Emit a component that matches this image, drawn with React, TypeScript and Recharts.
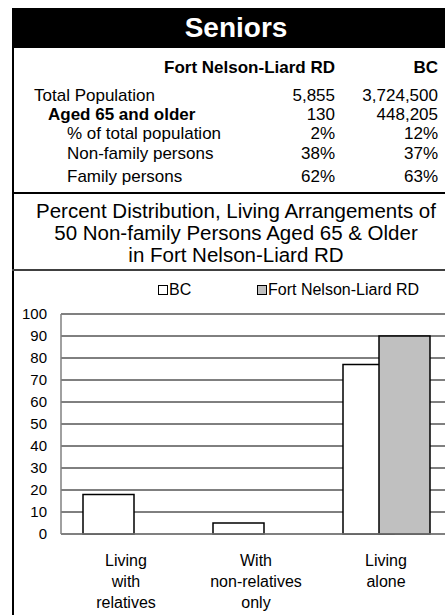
import React from 'react';
import { BarChart, Bar, XAxis, YAxis, CartesianGrid, ReferenceLine } from 'recharts';

// ---- data ----
const pageTitle = 'Seniors';
const columnHeaders = ['Fort Nelson-Liard RD', 'BC'];
const rowLabels = ['Total Population', 'Aged 65 and older', '% of total population', 'Non-family persons', 'Family persons'];
const fnValues = ['5,855', '130', '2%', '38%', '62%'];
const bcValues = ['3,724,500', '448,205', '12%', '37%', '63%'];
const chartTitleLines = [
  'Percent Distribution, Living Arrangements of',
  '50 Non-family Persons Aged 65 & Older',
  'in Fort Nelson-Liard RD',
];
const categories = ['Living\nwith\nrelatives', 'With\nnon-relatives\nonly', 'Living\nalone'];
const seriesNames = ['BC', 'Fort Nelson-Liard RD'];
const bcSeries = [18, 5, 77];
const fnSeries: (number | null)[] = [null, null, 90];
const yTicks = [0, 10, 20, 30, 40, 50, 60, 70, 80, 90, 100];

const chartData = categories.map((c, i) => ({ cat: c, bc: bcSeries[i], fn: fnSeries[i] }));

// ---- layout ----
const FONT = 'Arial, "Liberation Sans", sans-serif';
const rowCenters = [96, 115, 134, 154, 177];
const rowIndent = [34, 48, 67, 67, 67];
const rowBold = [false, true, false, false, false];
const seriesFill = ['#ffffff', '#c0c0c0'];

const abs = (o: React.CSSProperties): React.CSSProperties => ({ position: 'absolute', whiteSpace: 'nowrap', ...o });

function CatTick(props: any) {
  const { x, y, payload } = props;
  const lines = String(payload.value).split('\n');
  return (
    <text x={x} y={y} textAnchor="middle" fontSize={16} fontFamily={FONT} fill="#000">
      {lines.map((l, i) => (
        <tspan key={i} x={x} dy={i === 0 ? 32 : 21}>
          {l}
        </tspan>
      ))}
    </text>
  );
}

export default function App() {
  return (
    <div
      style={{
        position: 'absolute',
        left: 0,
        top: 0,
        width: 445,
        height: 615,
        overflow: 'hidden',
        background: '#fff',
        fontFamily: FONT,
        color: '#000',
      }}
    >
      {/* black title bar */}
      <div style={abs({ left: 12, top: 8, width: 460, height: 40, background: '#000' })} />
      <div
        style={abs({
          left: 12,
          top: 8,
          width: 448,
          height: 40,
          lineHeight: '40px',
          textAlign: 'center',
          color: '#fff',
          fontWeight: 'bold',
          fontSize: 28,
        })}
      >
        {pageTitle}
      </div>
      {/* left border */}
      <div style={abs({ left: 12, top: 8, width: 2, height: 620, background: '#000' })} />
      {/* header row */}
      <div style={abs({ right: 445 - 335, top: 68 - 10, height: 20, lineHeight: '20px', fontSize: 17, fontWeight: 'bold' })}>
        {columnHeaders[0]}
      </div>
      <div style={abs({ right: 445 - 438, top: 68 - 10, height: 20, lineHeight: '20px', fontSize: 17, fontWeight: 'bold' })}>
        {columnHeaders[1]}
      </div>
      {rowLabels.map((lab, i) => (
        <React.Fragment key={i}>
          <div
            style={abs({
              left: rowIndent[i],
              top: rowCenters[i] - 10,
              height: 20,
              lineHeight: '20px',
              fontSize: 17,
              fontWeight: rowBold[i] ? 'bold' : 'normal',
            })}
          >
            {lab}
          </div>
          <div style={abs({ right: 445 - 335, top: rowCenters[i] - 10, height: 20, lineHeight: '20px', fontSize: 17 })}>
            {fnValues[i]}
          </div>
          <div style={abs({ right: 445 - 438, top: rowCenters[i] - 10, height: 20, lineHeight: '20px', fontSize: 17 })}>
            {bcValues[i]}
          </div>
        </React.Fragment>
      ))}
      {/* separator */}
      <div style={abs({ left: 12, top: 192, width: 460, height: 2, background: '#000' })} />
      {/* chart title */}
      {chartTitleLines.map((t, i) => (
        <div
          key={i}
          style={abs({
            left: 12,
            width: 448,
            top: 211 + i * 22 - 11,
            height: 22,
            lineHeight: '22px',
            fontSize: 20.5,
            textAlign: 'center',
          })}
        >
          {t}
        </div>
      ))}
      <div style={abs({ left: 12, top: 269, width: 460, height: 2, background: '#404040' })} />
      {/* legend */}
      {seriesNames.map((n, i) => {
        const left = i === 0 ? 158 : 257;
        return (
          <React.Fragment key={n}>
            <div
              style={abs({
                left,
                top: 285,
                width: 8,
                height: 8,
                border: '1px solid #000',
                background: seriesFill[i],
              })}
            />
            <div style={abs({ left: left + 11, top: 290 - 10, height: 20, lineHeight: '20px', fontSize: 16 })}>{n}</div>
          </React.Fragment>
        );
      })}
      {/* chart */}
      <div style={abs({ left: 0, top: 270, width: 460, height: 345 })}>
        <BarChart
          width={460}
          height={345}
          data={chartData}
          margin={{ top: 44, right: 9, bottom: 0, left: 0 }}
          barGap={-15}
          barSize={51}
        >
          <CartesianGrid vertical={false} stroke="#000" strokeWidth={1} />
          <XAxis
            dataKey="cat"
            height={81}
            tickLine={false}
            tickSize={0}
            tickMargin={0}
            axisLine={{ stroke: '#808080', strokeWidth: 1.5 }}
            tick={<CatTick />}
            interval={0}
          />
          <YAxis
            width={61}
            domain={[0, 100]}
            ticks={yTicks}
            interval={0}
            tickLine={false}
            tickSize={0}
            tickMargin={14}
            axisLine={{ stroke: '#808080', strokeWidth: 1.5 }}
            tick={{ fontSize: 15, fill: '#000', fontFamily: FONT }}
          />
          <ReferenceLine y={100} stroke="#808080" strokeWidth={1.5} />
          <Bar dataKey="bc" name={seriesNames[0]} fill={seriesFill[0]} stroke="#000" strokeWidth={1.5} isAnimationActive={false} />
          <Bar dataKey="fn" name={seriesNames[1]} fill={seriesFill[1]} stroke="#000" strokeWidth={1.5} isAnimationActive={false} />
        </BarChart>
      </div>
    </div>
  );
}
